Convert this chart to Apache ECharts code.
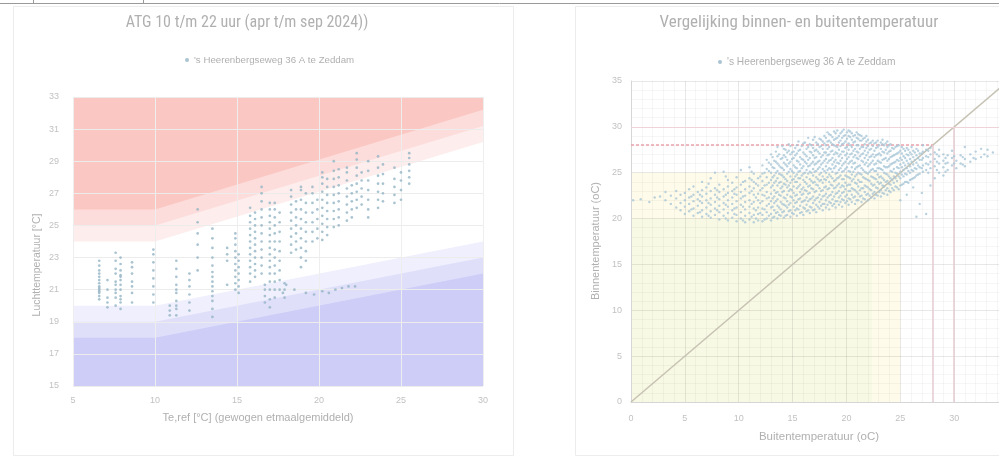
<!DOCTYPE html>
<html><head><meta charset="utf-8">
<script src="https://cdn.jsdelivr.net/npm/echarts/dist/echarts.min.js"></script>
<style>html,body{margin:0;padding:0;background:#fff;}#c{width:999px;height:458px;}</style>
</head><body><div id="c"></div>
<script>
// ---------- data: left chart (ATG) ----------
const leftTitle = "ATG 10 t/m 22 uur (apr t/m sep 2024))";
const seriesName = "'s Heerenbergseweg 36 A te Zeddam";
const leftXName = "Te,ref [°C] (gewogen etmaalgemiddeld)";
const leftYName = "Luchttemperatuur [°C]";
const bandX = [5, 10, 30];
const upperLight = [24, 24, 30.2];
const upperMid = [25, 25, 31.2];
const upperDark = [26, 26, 32.2];
const lowerLight = [20, 20, 24];
const lowerMid = [19, 19, 23];
const lowerDark = [18, 18, 22];
// columns: [Te,ref, indoor temps...]
const leftCols = [
  [6.6, 20.4, 20.6, 20.8, 21.0, 21.2, 21.4, 21.6, 21.8, 22.0, 22.2, 22.5, 22.8, 20.9, 21.1],
  [7.1, 19.9, 20.5, 21.0, 21.6, 20.2],
  [7.6, 20.0, 20.5, 21.0, 21.5, 22.0, 22.3, 23.3, 22.8, 21.3, 20.8],
  [7.9, 19.8, 20.2, 20.6, 21.0, 21.3, 21.6, 21.9, 22.2, 22.6, 23.0, 20.4, 21.8],
  [8.6, 20.2, 20.8, 21.5, 22.0, 22.4, 22.7, 21.2],
  [9.9, 20.2, 20.7, 21.2, 21.7, 22.2, 22.7, 23.2, 23.5],
  [10.9, 19.4, 19.7, 20.0],
  [11.3, 19.4, 19.8, 20.3, 20.8, 21.3, 21.8, 22.3, 22.8, 20.0, 21.0],
  [12.1, 19.7, 20.2, 20.7, 21.2, 21.6, 22.0],
  [12.6, 22.2, 23.0, 23.8, 24.5, 25.2, 26.0],
  [13.5, 19.3, 19.8, 20.3, 20.6, 20.9, 21.2, 21.5, 21.8, 22.1, 22.5, 23.0, 23.6, 24.2, 24.8],
  [14.4, 22.8, 23.2, 23.6, 21.3],
  [14.9, 21.0, 21.4, 21.8, 22.2, 22.6, 23.0, 23.4, 23.8, 24.2, 24.5],
  [15.1, 21.2, 21.6, 22.0, 22.4, 22.8, 23.2, 20.8],
  [15.8, 22.0, 22.4, 22.8, 23.2, 23.6, 24.0, 24.4, 24.8, 25.2, 25.6, 26.1, 21.5],
  [16.1, 22.2, 22.6, 23.0, 23.4, 23.8, 24.2, 24.6, 25.0, 25.4, 25.8, 21.8],
  [16.5, 22.0, 22.5, 23.0, 23.5, 24.0, 24.5, 25.0, 25.5, 26.0, 26.5, 27.0, 27.4],
  [16.7, 20.2, 20.6, 21.0, 21.3],
  [17.0, 19.9, 20.4, 21.0, 21.5, 22.0, 22.4, 22.8, 23.2, 23.6, 24.0, 24.4, 24.8, 25.2, 25.6, 26.0, 26.4],
  [17.3, 20.5, 21.0, 21.5, 22.0, 22.5, 23.0, 23.5, 24.0, 24.5, 25.0, 25.5, 26.0, 26.4],
  [17.6, 21.0, 21.6, 22.2, 22.8, 23.4, 24.0, 24.6, 25.2, 25.8],
  [17.9, 20.5, 21.0, 21.4],
  [18.3, 23.3, 23.8, 24.3, 24.8, 25.3, 25.8, 26.3, 26.8, 27.2],
  [18.6, 23.5, 24.0, 24.5, 25.0, 25.5, 26.0, 26.5],
  [18.9, 22.4, 23.0, 23.6, 24.2, 24.8, 25.4, 26.0, 26.6, 27.2, 27.4],
  [19.2, 22.8, 23.4, 24.0, 24.6, 25.2, 25.8, 26.4, 27.0],
  [19.6, 24.0, 24.6, 25.2, 25.8, 26.4, 27.0, 27.4],
  [19.9, 24.2, 24.8, 25.4, 26.0, 26.6],
  [20.2, 24.1, 24.6, 25.1, 25.6, 26.1, 26.6, 27.1, 27.6, 28.0, 28.3],
  [20.5, 24.4, 24.9, 25.4, 25.9, 26.4, 26.9, 27.4, 27.9],
  [20.9, 24.9, 25.4, 25.9, 26.4, 26.9, 27.4, 27.9, 28.4, 29.0],
  [21.2, 25.0, 25.5, 26.0, 26.5, 27.0, 27.5, 28.0, 28.5],
  [21.7, 25.3, 25.8, 26.3, 26.8, 27.3, 27.8, 28.3, 28.6],
  [22.0, 25.5, 26.0, 26.5, 27.0, 27.5],
  [22.3, 26.1, 26.6, 27.1, 27.6, 28.1, 28.6, 29.1, 29.5],
  [22.6, 26.3, 26.8, 27.3, 27.8, 28.3],
  [23.0, 25.5, 26.0, 26.6, 27.2, 27.8, 28.4, 29.0],
  [23.6, 26.1, 26.6, 27.1, 27.6, 28.1, 28.6, 29.3],
  [23.9, 26.5, 27.0, 27.6, 28.2, 28.8],
  [24.6, 26.4, 26.9, 27.4, 27.9, 28.6],
  [25.0, 26.6, 27.2, 27.8, 28.3],
  [25.5, 27.6, 28.0, 28.4, 28.8, 29.2, 29.5]
];
const leftExtra = [[18.5,21.0],[19.2,20.8],[19.7,20.7],[20.2,20.9],[20.6,20.8],[21.0,21.0],[21.4,21.1],[21.8,21.2],[22.2,21.2],[18.0,21.3],[17.8,20.8]];
const leftXTicks = {min: 5, max: 30, interval: 5};
const leftYTicks = {min: 15, max: 33, interval: 2};

// ---------- data: right chart ----------
const rightTitle = "Vergelijking binnen- en buitentemperatuur";
const rightXName = "Buitentemperatuur (oC)";
const rightYName = "Binnentemperatuur (oC)";
const rightXTicks = {min: 0, max: 35, interval: 5};
const rightYTicks = {min: 0, max: 35, interval: 5};
const diagonal = [0, 35];
const limitDashed = 28;
const limitUpper = 30;
const yellowBox = [25, 25];
const greenBox = [22.4, 20];
const rightCols = [
  [0.2, 22.0],[0.9, 22.1],[1.7, 21.8],[2.2, 22.3],[2.7, 22.4],
  [3.2, 22.0, 22.9],[3.7, 21.6, 22.5],[4.2, 21.2, 22.2, 23.0],[4.6, 20.9, 21.7, 22.6],
  [5.0, 20.5, 21.3, 22.0, 22.8],[5.4, 20.8, 21.6, 22.3, 23.2],[5.8, 20.3, 21.1, 21.9, 22.6, 23.5],
  [6.2, 20.6, 21.4, 22.1, 22.9],[6.6, 20.2, 20.9, 21.7, 22.4, 23.1, 24.0],[7.0, 20.5, 21.2, 22.0, 22.7, 23.4],
  [7.4, 20.1, 20.8, 21.5, 22.2, 23.0, 24.4],[7.8, 20.4, 21.1, 21.8, 22.6, 23.3, 25.0],
  [8.2, 19.9, 20.7, 21.4, 22.1, 22.9, 23.7],[8.6, 20.3, 21.0, 21.7, 22.4, 23.2, 25.1],
  [9.0, 19.8, 20.6, 21.3, 22.0, 22.8, 23.5, 24.2],[9.4, 20.1, 20.9, 21.6, 22.3, 23.0, 23.9],
  [9.8, 19.7, 20.4, 21.2, 21.9, 22.6, 23.4, 24.5],[10.2, 20.0, 20.7, 21.5, 22.2, 22.9, 23.7, 25.3],
  [10.6, 19.6, 20.3, 21.0, 21.8, 22.5, 23.2, 24.1],[11.0, 19.9, 20.6, 21.3, 22.0, 22.8, 23.5, 24.4, 25.6],
  [11.4, 19.6, 20.4, 21.1, 21.8, 22.6, 23.3, 24.0, 24.9],[11.8, 19.8, 20.5, 21.2, 22.0, 22.7, 23.6, 24.4],
  [12.2, 19.7, 20.4, 21.1, 21.9, 22.6, 23.3, 24.1, 24.9, 25.8],[12.6, 20.0, 20.7, 21.4, 22.2, 22.9, 23.7, 24.5, 25.4, 26.4],
  [13.0, 19.8, 20.5, 21.2, 21.9, 22.7, 23.4, 24.2, 25.0, 25.9, 27.0],[13.3, 20.2, 20.9, 21.7, 22.4, 23.1, 23.9, 24.7, 25.5, 26.3],
  [13.6, 20.0, 20.7, 21.4, 22.1, 22.9, 23.6, 24.4, 25.2, 26.0, 26.8, 27.8],[13.9, 20.3, 21.0, 21.8, 22.5, 23.3, 24.0, 24.8, 25.6, 26.5],
  [14.2, 20.1, 20.8, 21.5, 22.3, 23.0, 23.8, 24.5, 25.3, 26.1, 26.9, 27.6],[14.5, 20.4, 21.2, 21.9, 22.6, 23.4, 24.1, 24.9, 25.7, 26.4, 27.2],
  [14.8, 20.2, 20.9, 21.7, 22.4, 23.2, 23.9, 24.6, 25.4, 26.2, 27.0, 27.9],[15.1, 20.5, 21.3, 22.0, 22.8, 23.5, 24.3, 25.0, 25.8, 26.6, 27.3],
  [15.4, 20.3, 21.1, 21.8, 22.6, 23.3, 24.0, 24.8, 25.5, 26.3, 27.1, 28.0],[15.7, 20.6, 21.4, 22.2, 22.9, 23.7, 24.4, 25.2, 25.9, 26.7, 27.5],
  [16.0, 20.4, 21.2, 21.9, 22.7, 23.4, 24.2, 24.9, 25.7, 26.4, 27.2, 28.2],[16.3, 20.8, 21.5, 22.3, 23.0, 23.8, 24.5, 25.3, 26.0, 26.8, 27.6],
  [16.6, 20.6, 21.3, 22.1, 22.8, 23.6, 24.3, 25.1, 25.8, 26.6, 27.3, 28.1],[16.9, 20.9, 21.7, 22.4, 23.2, 23.9, 24.7, 25.4, 26.2, 26.9, 27.7, 28.6],
  [17.2, 20.7, 21.5, 22.2, 23.0, 23.7, 24.5, 25.2, 26.0, 26.7, 27.5, 28.3],[17.5, 21.1, 21.8, 22.6, 23.3, 24.1, 24.8, 25.6, 26.3, 27.1, 27.8, 28.7],
  [17.8, 20.9, 21.6, 22.4, 23.1, 23.9, 24.6, 25.4, 26.1, 26.9, 27.6, 28.4],[18.1, 21.2, 22.0, 22.7, 23.5, 24.2, 25.0, 25.7, 26.5, 27.2, 28.0, 28.8],
  [18.4, 21.0, 21.8, 22.5, 23.3, 24.0, 24.8, 25.5, 26.3, 27.0, 27.8, 28.5, 29.2],[18.7, 21.4, 22.1, 22.9, 23.6, 24.4, 25.1, 25.9, 26.6, 27.4, 28.1, 28.9],
  [19.0, 21.2, 21.9, 22.7, 23.4, 24.2, 24.9, 25.7, 26.4, 27.2, 27.9, 28.7, 29.3],[19.3, 21.5, 22.3, 23.0, 23.8, 24.5, 25.3, 26.0, 26.8, 27.5, 28.3, 29.0],
  [19.6, 21.3, 22.1, 22.8, 23.6, 24.3, 25.1, 25.8, 26.6, 27.3, 28.1, 28.8, 29.5],[19.9, 21.7, 22.4, 23.2, 23.9, 24.7, 25.4, 26.2, 26.9, 27.7, 28.4, 29.1],
  [20.2, 21.5, 22.2, 23.0, 23.7, 24.5, 25.2, 26.0, 26.7, 27.5, 28.2, 29.0, 29.6],[20.5, 21.8, 22.6, 23.3, 24.1, 24.8, 25.6, 26.3, 27.1, 27.8, 28.6, 29.3],
  [20.8, 21.6, 22.4, 23.1, 23.9, 24.6, 25.4, 26.1, 26.9, 27.6, 28.4, 29.1],[21.1, 22.0, 22.7, 23.5, 24.2, 25.0, 25.7, 26.5, 27.2, 28.0, 28.7, 29.2],
  [21.4, 21.8, 22.5, 23.3, 24.0, 24.8, 25.5, 26.3, 27.0, 27.8, 28.5, 29.0],[21.7, 22.1, 22.9, 23.6, 24.4, 25.1, 25.9, 26.6, 27.4, 28.1, 28.8],
  [22.0, 22.0, 22.7, 23.4, 24.2, 24.9, 25.7, 26.4, 27.2, 27.9, 28.6],[22.3, 22.3, 23.1, 23.8, 24.6, 25.3, 26.1, 26.8, 27.6, 28.3],
  [22.6, 22.2, 22.9, 23.7, 24.4, 25.2, 25.9, 26.7, 27.4, 28.2],[22.9, 22.5, 23.3, 24.0, 24.8, 25.5, 26.3, 27.0, 27.8, 28.5],
  [23.2, 22.4, 23.1, 23.9, 24.6, 25.4, 26.1, 26.9, 27.6, 28.3],[23.5, 22.7, 23.5, 24.2, 25.0, 25.7, 26.5, 27.2, 28.0],
  [23.8, 22.6, 23.3, 24.1, 24.8, 25.6, 26.3, 27.1, 27.8, 28.4],[24.1, 22.9, 23.7, 24.4, 25.2, 25.9, 26.7, 27.4, 28.1],
  [24.4, 23.1, 23.9, 24.6, 25.4, 26.1, 26.9, 27.6],[24.7, 23.4, 24.1, 24.9, 25.6, 26.4, 27.1, 27.9],
  [25.0, 22.0, 23.6, 24.4, 25.1, 25.9, 26.6, 27.4],[25.3, 23.8, 24.6, 25.3, 26.1, 26.8, 27.6],
  [25.6, 22.6, 24.0, 24.8, 25.5, 26.3, 27.0, 27.7],[25.9, 24.2, 25.0, 25.7, 26.5, 27.2],
  [26.2, 23.4, 24.4, 25.2, 25.9, 26.7, 27.4],[26.5, 20.2, 24.7, 25.4, 26.1, 26.9, 27.6],
  [26.8, 21.6, 24.9, 25.6, 26.4, 27.1],[27.1, 25.1, 25.8, 26.6, 27.3, 28.0],
  [27.4, 20.5, 25.3, 26.0, 26.8, 27.5],[27.8, 23.6, 25.5, 26.2, 27.0, 27.7],
  [28.2, 24.4, 25.7, 26.5, 27.2],[28.6, 25.0, 26.0, 26.8, 27.5],[29.0, 24.7, 25.6, 26.3, 27.0],
  [29.4, 25.3, 26.1, 26.9],[29.8, 25.8, 26.6, 27.4],[30.2, 25.5, 26.3],[30.6, 26.0, 26.9],
  [31.0, 25.7, 26.5, 27.8],[31.5, 26.2, 27.0],[32.0, 26.5, 27.3],[32.5, 26.7, 27.6],[33.1, 26.8, 27.5],[33.6, 27.2]
];
const rightCols2 = [
  [5.6, 21.0, 22.4],[6.4, 20.7, 21.9, 22.6],[7.2, 20.3, 21.7, 23.8],[8.0, 20.9, 22.3, 23.1],[8.8, 20.0, 21.5, 22.6, 24.6],
  [9.6, 20.5, 21.1, 22.7, 23.2],[10.4, 19.8, 21.3, 22.4, 24.0],[11.2, 20.2, 21.6, 23.0, 24.2, 25.1],
  [11.6, 20.0, 20.9, 22.3, 23.8],[12.0, 20.6, 21.7, 23.1, 24.6],[12.4, 19.9, 21.0, 22.5, 23.6, 25.0],[12.8, 20.3, 21.6, 22.3, 23.9, 25.2, 26.1],
  [13.15, 20.1, 21.3, 22.2, 23.6, 24.5, 25.6, 26.7],[13.45, 20.6, 21.9, 22.8, 24.1, 25.0, 26.2, 27.3],[13.75, 20.4, 21.2, 22.6, 23.9, 24.9, 25.8, 27.0],
  [14.05, 20.7, 21.6, 22.9, 23.5, 24.7, 25.5, 26.6, 27.9],[14.35, 20.3, 21.4, 22.2, 23.7, 24.3, 25.9, 26.7, 27.5],[14.65, 20.8, 21.5, 23.0, 23.6, 25.1, 26.0, 27.4, 28.1],
  [14.95, 20.6, 22.3, 23.1, 24.2, 25.2, 26.5, 27.2],[15.25, 20.9, 21.7, 22.5, 24.0, 24.6, 25.6, 26.9, 27.7],[15.55, 21.0, 22.1, 23.5, 24.4, 25.1, 26.2, 27.4, 28.4],
  [15.85, 20.7, 21.8, 22.6, 23.2, 24.7, 25.5, 26.5, 27.9],[16.15, 21.1, 22.0, 23.1, 24.0, 25.0, 26.2, 27.0, 28.3],[16.45, 20.9, 21.9, 22.7, 23.5, 24.9, 25.7, 26.4, 27.8, 28.8],
  [16.75, 21.2, 22.2, 23.3, 24.1, 25.0, 26.0, 27.2, 28.0],[17.05, 21.0, 22.0, 22.9, 24.0, 25.1, 25.9, 26.6, 27.4, 28.9],[17.35, 21.3, 22.3, 23.6, 24.3, 25.4, 26.2, 27.3, 28.1],
  [17.65, 21.4, 22.1, 23.0, 24.2, 25.0, 25.9, 26.7, 27.9, 28.6],[17.95, 21.6, 22.5, 23.4, 24.3, 25.2, 26.3, 27.2, 28.2, 29.0],[18.25, 21.5, 22.3, 23.2, 24.5, 25.3, 26.1, 26.9, 27.6, 28.4, 29.4],
  [18.55, 21.7, 22.6, 23.7, 24.6, 25.4, 26.4, 27.3, 28.3, 29.1],[18.85, 21.6, 22.4, 23.3, 24.1, 25.5, 26.2, 27.0, 28.0, 28.6, 29.5],[19.15, 21.9, 22.8, 23.6, 24.4, 25.0, 26.1, 27.1, 27.8, 28.8, 29.6],
  [19.45, 21.8, 22.5, 23.4, 24.7, 25.5, 26.3, 27.0, 27.9, 28.5, 29.3],[19.75, 22.0, 22.9, 23.5, 24.3, 25.2, 26.0, 27.3, 28.2, 29.0, 29.7],[20.05, 21.9, 22.6, 23.6, 24.6, 25.6, 26.5, 27.1, 27.8, 28.7, 29.4],
  [20.35, 22.1, 23.0, 23.7, 24.4, 25.1, 26.2, 27.0, 28.0, 28.9, 29.5],[20.65, 22.3, 23.2, 24.3, 25.1, 26.0, 26.7, 27.4, 28.3, 29.0],[20.95, 22.0, 22.9, 23.8, 24.8, 25.6, 26.6, 27.3, 28.0, 28.8, 29.4],
  [21.25, 22.4, 23.1, 24.0, 24.9, 25.8, 26.8, 27.6, 28.5, 29.1],[21.55, 22.2, 23.3, 24.5, 25.3, 26.2, 27.1, 27.8, 28.7],[21.85, 22.6, 23.5, 24.3, 25.0, 26.1, 26.9, 27.7, 28.4, 29.0],
  [22.15, 22.5, 23.2, 24.1, 25.1, 25.9, 26.7, 27.5, 28.2],[22.45, 22.7, 23.6, 24.5, 25.4, 26.3, 27.0, 27.9, 28.5],[22.75, 22.6, 23.4, 24.3, 25.2, 26.0, 26.9, 27.7, 28.3],
  [23.05, 22.9, 23.8, 24.5, 25.5, 26.2, 27.1, 28.0],[23.35, 22.8, 23.6, 24.4, 25.3, 26.4, 27.3, 28.1, 28.6],[23.65, 23.1, 24.0, 24.9, 25.6, 26.6, 27.5, 28.2],
  [23.95, 23.0, 23.8, 24.6, 25.7, 26.5, 27.3, 28.0],[24.25, 23.3, 24.2, 25.1, 26.0, 26.8, 27.7],[24.55, 23.5, 24.4, 25.0, 26.2, 27.0, 27.8],
  [24.85, 23.2, 24.6, 25.5, 26.3, 27.2, 28.0],[25.15, 23.7, 24.8, 25.6, 26.4, 27.1, 27.8],[25.45, 24.0, 24.9, 25.8, 26.6, 27.4],
  [25.75, 23.9, 25.2, 26.0, 26.9, 27.5],[26.05, 24.3, 25.3, 26.2, 27.0, 27.8],[26.35, 24.5, 25.5, 26.4, 27.2],
  [26.65, 24.8, 25.8, 26.6, 27.4],[27.0, 22.8, 25.5, 26.4, 27.1],[27.6, 25.0, 25.9, 26.7, 27.4],[28.4, 25.3, 26.2, 27.0],
  [29.2, 25.1, 26.0, 26.6],[30.0, 26.0, 26.8],[30.8, 25.9, 26.7],[31.8, 26.6],[32.8, 27.0]
];

// ---------- build ----------
const toPts = cols => cols.flatMap(c => c.slice(1).map(y => [c[0], y]));
const leftPts = toPts(leftCols).concat(leftExtra);
const rightPts = toPts(rightCols).concat(toPts(rightCols2));
const bandData = arr => bandX.map((x, i) => [x, arr[i]]);

const NARROW = "'Liberation Sans Narrow','Roboto Condensed','Liberation Sans',sans-serif";
const SANS = "'Liberation Sans','Noto Sans',sans-serif";
const txt = '#b0b0b0';
const lbl = '#c2c2c2';

function band(data, color, origin) {
  return {type: 'line', xAxisIndex: 0, yAxisIndex: 0, data: bandData(data), showSymbol: false, silent: true,
    lineStyle: {width: 0}, areaStyle: {color: color, opacity: 1, origin: origin}, z: 1};
}

const chart = echarts.init(document.getElementById('c'), null, {renderer: 'canvas'});
chart.setOption({
  animation: false,
  backgroundColor: '#ffffff',
  textStyle: {fontFamily: SANS},
  grid: [
    {left: 73, top: 97, width: 410, height: 289, containLabel: false, outerBoundsMode: 'none'},
    {left: 631, top: 81, width: 377, height: 321, containLabel: false, outerBoundsMode: 'none'}
  ],
  legend: [
    {data: [seriesName], left: 180, top: 50, icon: 'circle', itemWidth: 4, itemHeight: 4, itemGap: 4,
      textStyle: {fontSize: 9.7, color: txt, fontFamily: SANS}, selectedMode: false},
    {data: [seriesName], left: 713, top: 52, icon: 'circle', itemWidth: 4, itemHeight: 4, itemGap: 4,
      textStyle: {fontSize: 10.2, color: txt, fontFamily: SANS}, selectedMode: false}
  ],
  xAxis: [
    {gridIndex: 0, type: 'value', min: leftXTicks.min, max: leftXTicks.max, interval: leftXTicks.interval, z: 3,
      axisLine: {show: false}, axisTick: {show: false},
      axisLabel: {color: lbl, fontSize: 9, margin: 10},
      splitLine: {show: true, lineStyle: {color: '#eeeeee', width: 1}}},
    {gridIndex: 1, type: 'value', min: rightXTicks.min, max: rightXTicks.max, interval: rightXTicks.interval, z: 3,
      axisLine: {show: true, lineStyle: {color: '#d6d6d6'}}, axisTick: {show: false},
      axisLabel: {color: lbl, fontSize: 9, margin: 12},
      minorTick: {show: false, splitNumber: 5},
      minorSplitLine: {show: true, lineStyle: {color: 'rgba(0,0,0,0.035)'}},
      splitLine: {show: true, lineStyle: {color: 'rgba(0,0,0,0.09)'}}}
  ],
  yAxis: [
    {gridIndex: 0, type: 'value', min: leftYTicks.min, max: leftYTicks.max, interval: leftYTicks.interval, z: 3,
      axisLine: {show: false}, axisTick: {show: false},
      axisLabel: {color: lbl, fontSize: 9, margin: 14},
      splitLine: {show: true, lineStyle: {color: '#ececec', width: 1.2}}},
    {gridIndex: 1, type: 'value', min: rightYTicks.min, max: rightYTicks.max, interval: rightYTicks.interval, z: 3,
      axisLine: {show: true, lineStyle: {color: '#d6d6d6'}}, axisTick: {show: false},
      axisLabel: {color: lbl, fontSize: 9, margin: 9},
      minorTick: {show: false, splitNumber: 5},
      minorSplitLine: {show: true, lineStyle: {color: 'rgba(0,0,0,0.035)'}},
      splitLine: {show: true, lineStyle: {color: 'rgba(0,0,0,0.09)'}}}
  ],
  series: [
    band(upperLight, '#FDEDEC', 'end'),
    band(upperMid, '#FCDDDB', 'end'),
    band(upperDark, '#FBC7C2', 'end'),
    band(lowerLight, '#EFEFFD', 'start'),
    band(lowerMid, '#DFDFFA', 'start'),
    band(lowerDark, '#CDCDF8', 'start'),
    {name: seriesName, type: 'scatter', xAxisIndex: 0, yAxisIndex: 0, data: leftPts, symbolSize: 2.7, z: 5,
      itemStyle: {color: '#93B4C4'}},
    {type: 'line', xAxisIndex: 1, yAxisIndex: 1, data: [], silent: true, z: 1,
      markArea: {silent: true, data: [
        [{coord: [0, 0], itemStyle: {color: '#FFFBEA'}}, {coord: yellowBox}],
        [{coord: [0, 0], itemStyle: {color: '#F8F9E4'}}, {coord: greenBox}]
      ]}},
    {type: 'line', xAxisIndex: 1, yAxisIndex: 1, data: diagonal.map(v => [v, v]), showSymbol: false, silent: true, z: 4,
      lineStyle: {color: '#C6C2B4', width: 1.5},
      markLine: {silent: true, symbol: 'none', label: {show: false}, data: [
        [{coord: [0, limitDashed], lineStyle: {color: '#EBA3AC', width: 1.5, type: [3, 2]}}, {coord: [limitDashed, limitDashed]}],
        [{coord: [limitDashed, 0], lineStyle: {color: '#E6CCD2', width: 1.5, type: 'solid'}}, {coord: [limitDashed, limitDashed]}],
        [{coord: [limitUpper, 0], lineStyle: {color: '#E6CCD2', width: 1.5, type: 'solid'}}, {coord: [limitUpper, limitUpper]}],
        [{coord: [0, limitUpper], lineStyle: {color: '#EED3D8', width: 1.2, type: 'solid'}}, {coord: [rightXTicks.max, limitUpper]}]
      ]}},
    {name: seriesName, type: 'scatter', xAxisIndex: 1, yAxisIndex: 1, data: rightPts, symbolSize: 2.4, z: 5,
      itemStyle: {color: '#A9C7D7'}}
  ],
  graphic: [
    {type: 'line', shape: {x1: 0, y1: 3.5, x2: 999, y2: 3.5}, style: {stroke: '#9a9a9a', lineWidth: 1}, silent: true},
    {type: 'line', shape: {x1: 33.5, y1: 0, x2: 33.5, y2: 3.5}, style: {stroke: '#9a9a9a', lineWidth: 1}, silent: true},
    {type: 'line', shape: {x1: 143.5, y1: 0, x2: 143.5, y2: 3.5}, style: {stroke: '#9a9a9a', lineWidth: 1}, silent: true},
    {type: 'rect', shape: {x: 13.5, y: 6.5, width: 500, height: 449}, style: {fill: 'none', stroke: '#ececec', lineWidth: 1}, silent: true, z: -1},
    {type: 'rect', shape: {x: 575.5, y: 6.5, width: 440, height: 449}, style: {fill: 'none', stroke: '#ececec', lineWidth: 1}, silent: true, z: -1},
    {type: 'text', x: 247, y: 23, style: {text: leftTitle, fill: txt, font: '16px ' + NARROW, textAlign: 'center', textVerticalAlign: 'middle'}},
    {type: 'text', x: 799, y: 23, style: {text: rightTitle, fill: txt, font: '17px ' + NARROW, textAlign: 'center', textVerticalAlign: 'middle'}},
    {type: 'text', x: 258, y: 418, style: {text: leftXName, fill: txt, font: '11px ' + SANS, textAlign: 'center', textVerticalAlign: 'middle'}},
    {type: 'text', x: 37, y: 265, rotation: Math.PI / 2, style: {text: leftYName, fill: txt, font: '10.5px ' + SANS, textAlign: 'center', textVerticalAlign: 'middle'}},
    {type: 'text', x: 819, y: 437, style: {text: rightXName, fill: txt, font: '11.5px ' + SANS, textAlign: 'center', textVerticalAlign: 'middle'}},
    {type: 'text', x: 596, y: 241, rotation: Math.PI / 2, style: {text: rightYName, fill: txt, font: '11px ' + SANS, textAlign: 'center', textVerticalAlign: 'middle'}}
  ]
});
</script></body></html>
